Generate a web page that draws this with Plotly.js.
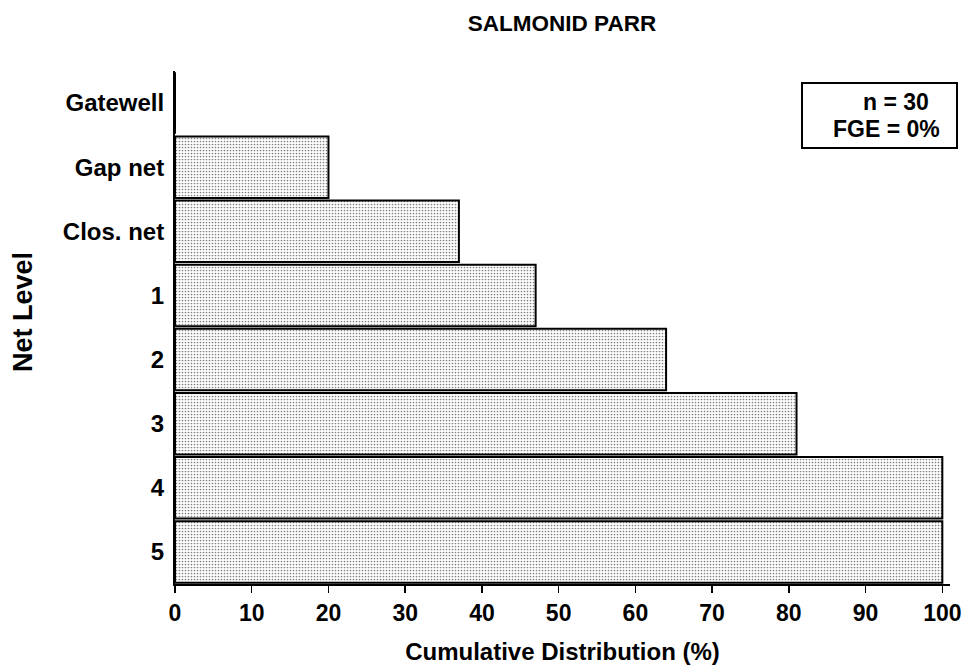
<!DOCTYPE html>
<html>
<head>
<meta charset="utf-8">
<script src="https://cdn.plot.ly/plotly-3.0.1.min.js"></script>
<style>html,body{margin:0;padding:0;background:#fff;}#chart{width:969px;height:669px;}</style>
</head>
<body>
<div id="chart"></div>
<script>
// Data (bottom to top)
const netLevels = ["5", "4", "3", "2", "1", "Clos. net", "Gap net", "Gatewell"];
const cumulativePct = [100, 100, 81, 64, 47, 37, 20, 0];
const xTickValues = [0, 10, 20, 30, 40, 50, 60, 70, 80, 90, 100];
const chartTitle = "SALMONID PARR";
const xTitle = "Cumulative Distribution (%)";
const yTitle = "Net Level";
const infoLines = ["n = 30", "FGE = 0%"];

const FONT = "Liberation Sans, Arial, sans-serif";
const f = (size) => ({ family: FONT, size: size, weight: "bold", color: "black" });

const trace = {
  type: "bar",
  orientation: "h",
  y: netLevels,
  x: cumulativePct,
  marker: {
    color: "white",
    line: { color: "black", width: 2 },
    pattern: { shape: ".", fgcolor: "#808080", bgcolor: "white", size: 3, solidity: 0.25 }
  },
  hoverinfo: "none"
};

const layout = {
  width: 969,
  height: 669,
  margin: { l: 175, r: 19, t: 71, b: 85 },
  paper_bgcolor: "white",
  plot_bgcolor: "white",
  showlegend: false,
  bargap: 0.04,
  font: f(22),
  title: {
    text: chartTitle,
    font: f(22.5),
    x: 562 / 969, xanchor: "center", xref: "container",
    y: 1 - 23 / 669, yanchor: "middle", yref: "container"
  },
  xaxis: {
    range: [0, 101],
    tickvals: xTickValues,
    ticktext: xTickValues.map(String),
    ticks: "outside",
    ticklen: 7,
    tickwidth: 1.5,
    tickcolor: "black",
    showline: true,
    linecolor: "black",
    linewidth: 2,
    showgrid: false,
    zeroline: false,
    tickfont: f(23),
    title: {
      text: xTitle,
      font: f(24),
      standoff: 19
    }
  },
  yaxis: {
    type: "category",
    categoryorder: "array",
    categoryarray: netLevels,
    ticks: "",
    showline: true,
    linecolor: "black",
    linewidth: 2,
    showgrid: false,
    zeroline: false,
    ticklabelstandoff: 4,
    tickfont: f(24)
  },
  shapes: [{
    type: "rect", xref: "paper", yref: "paper",
    x0: (802 - 175) / 775, x1: (957 - 175) / 775,
    y0: (584 - 148) / 513, y1: (584 - 83) / 513,
    line: { color: "black", width: 2 },
    fillcolor: "white"
  }],
  annotations: [
    {
      xref: "paper", yref: "paper",
      x: (23 - 175) / 775, y: (584 - 312) / 513,
      xanchor: "center", yanchor: "middle",
      text: yTitle, textangle: -90, showarrow: false, font: f(27)
    },
    {
      xref: "paper", yref: "paper",
      x: (896 - 175) / 775, y: (584 - 102) / 513,
      xanchor: "center", yanchor: "middle",
      text: infoLines[0], showarrow: false, font: f(23)
    },
    {
      xref: "paper", yref: "paper",
      x: (886.5 - 175) / 775, y: (584 - 129) / 513,
      xanchor: "center", yanchor: "middle",
      text: infoLines[1], showarrow: false, font: f(23)
    }
  ]
};

Plotly.newPlot("chart", [trace], layout, { displayModeBar: false, staticPlot: true });
</script>
</body>
</html>
